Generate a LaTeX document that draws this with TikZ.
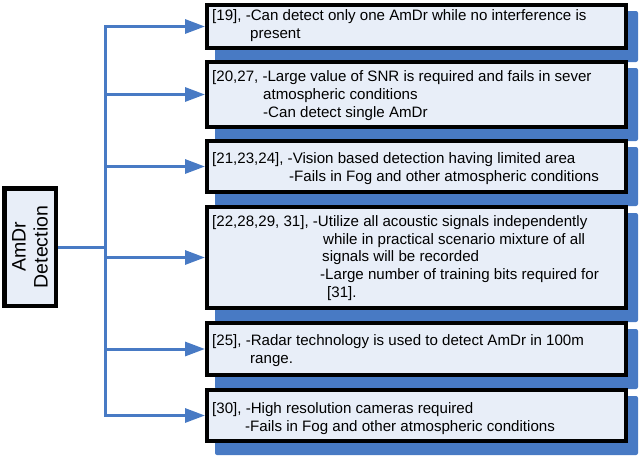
\documentclass[tikz,border=0pt]{standalone}
\usepackage{fontspec}
\setmainfont{Liberation Sans}
\usetikzlibrary{arrows.meta,calc}
\definecolor{boxfill}{RGB}{232,238,248}
\definecolor{linkblue}{RGB}{72,122,196}
\pgfdeclarelayer{background}
\pgfsetlayers{background,main}
\tikzset{
  infobox/.style={draw=black, line width=4pt, fill=boxfill, inner sep=0pt, minimum width=419pt},
  rootbox/.style={draw=black, line width=4.5pt, fill=boxfill, inner sep=0pt},
  infotext/.style={anchor=north west, inner sep=0pt, align=left, font=\fontsize{15.1}{17.8}\selectfont},
  conn/.style={draw=linkblue, line width=3pt},
  arrowconn/.style={conn, -{Triangle[length=20pt,width=14pt]}},
  shadowbox/.style={fill=linkblue, rounded corners=2pt}
}
\newcommand{\fst}{\rule{0pt}{12pt}}
\begin{document}
\begin{tikzpicture}[x=1pt,y=-1pt]
\useasboundingbox (0,0) rectangle (640,458);
% boxes
\node[infobox, minimum height=43pt] (b1) at (416.5,26.5) {};
\node[infobox, minimum height=65pt] (b2) at (416.5,94.5) {};
\node[infobox, minimum height=51pt] (b3) at (416.5,166.5) {};
\node[infobox, minimum height=101pt] (b4) at (416.5,257.5) {};
\node[infobox, minimum height=52pt] (b5) at (416.5,349) {};
\node[infobox, minimum height=51pt] (b6) at (416.5,415.5) {};
% shadows
\begin{pgfonlayer}{background}
\foreach \b in {b1,b2,b3,b4,b5,b6}{
  \fill[shadowbox] ([shift={(10,8)}]\b.north west) rectangle ([shift={(10,12)}]\b.south east);
}
\end{pgfonlayer}
% texts
\node[infotext] (t1) at (212,8.5) {\fst[19], -Can detect only one AmDr while no interference is\\\hspace*{38pt}present};
\node[infotext] (t2) at (212,69.7) {\fst[20,27, -Large value of SNR is required and fails in sever\\\hspace*{51pt}atmospheric conditions\\\hspace*{51pt}-Can detect single AmDr};
\node[infotext] (t3) at (212,151) {\fst[21,23,24], -Vision based detection having limited area\\\hspace*{77pt}-Fails in Fog and other atmospheric conditions};
\node[infotext] (t4) at (212,214) {\fst[22,28,29, 31], -Utilize all acoustic signals independently\\\hspace*{111pt}while in practical scenario mixture of all\\\hspace*{110pt}signals will be recorded\\\hspace*{108pt}-Large number of training bits required for\\\hspace*{115pt}[31].};
\node[infotext] (t5) at (212,333) {\fst[25], -Radar technology is used to detect AmDr in 100m\\\hspace*{38pt}range.};
\node[infotext] (t6) at (212,401) {\fst[30], -High resolution cameras required\\\hspace*{33pt}-Fails in Fog and other atmospheric conditions};
% root
\node[rootbox, minimum width=51.5pt, minimum height=117.5pt] (root) at (30,247) {};
\node[rotate=90, align=center, inner sep=0pt, font=\fontsize{19.5}{22}\selectfont] (rootlabel) at (root.center) {AmDr\\Detection};
% connectors
\coordinate (j) at (105,247);
\draw[conn] (root.east) -- (j);
\draw[conn, line cap=rect] (b1.west -| j) -- (b6.west -| j);
\foreach \b in {b1,b2,b3,b4,b5,b6}{
  \draw[arrowconn] (\b.west -| j) -- (\b.west);
}
\end{tikzpicture}
\end{document}
